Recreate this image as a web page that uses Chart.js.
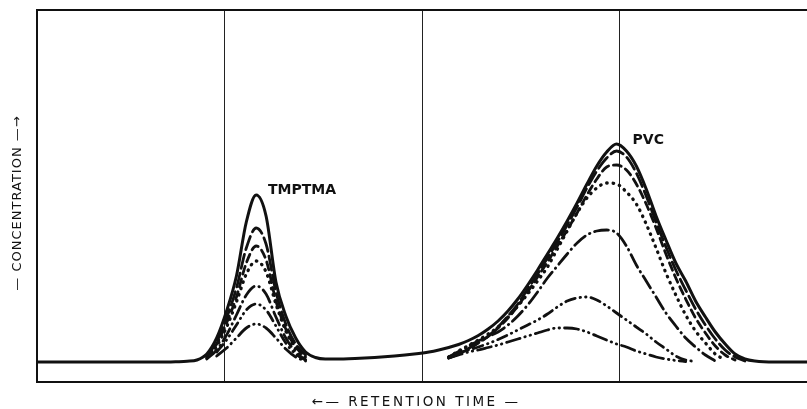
<!DOCTYPE html>
<html>
<head>
<meta charset="utf-8">
<script src="https://cdn.jsdelivr.net/npm/chart.js@4/dist/chart.umd.min.js"></script>
<style>
  html, body { margin: 0; padding: 0; background: #fff; overflow: hidden; width: 807px; height: 409px; }
  #wrap { position: absolute; left: 0; top: 0; width: 820px; height: 409px; }
</style>
</head>
<body>
<div id="wrap"><canvas id="chromatogram" width="820" height="409"></canvas></div>
<script>
// Retention axis (arbitrary units, reference lines at 10, 20, 30)
const retention = [
  0.5, 4, 7.1, 7.6,
  8.1, 8.6, 9.1, 9.6, 10.1, 10.6, 11.1, 11.6, 12.1, 12.6, 13.1, 13.6, 14.1, 14.6, 15.1, 15.6,
  16.6, 17.6, 18.6, 19.6,
  20.35, 20.85, 21.35, 21.85, 22.35, 22.85, 23.35, 23.85, 24.35, 24.85, 25.35, 25.85, 26.35,
  26.85, 27.35, 27.85, 28.35, 28.85, 29.35, 29.85, 30.35, 30.85, 31.35, 31.85, 32.35, 32.85,
  33.35, 33.85, 34.35, 34.85, 35.35, 35.85, 36.35,
  36.85, 37.85, 40
];
const gridPositions = [10, 20, 30];

// Detector response for each run (null = not recorded)
const run1 = [
  0, 0, 0, 0.3,
  0.8, 2, 8, 24, 51, 86, 140, 167, 146, 80, 46, 24, 10, 4.5, 3, 3,
  3.5, 4.5, 6, 8,
  10, 12, 14.5, 17.5, 21.5, 26.5, 33, 41, 51, 63, 77, 92, 108, 124, 141, 159, 178, 196, 210, 218,
  211, 196, 173, 146, 122, 99, 81, 61, 45, 30, 18, 8, 3,
  1, 0, 0
];
const run2 = [
  null, null, null, null,
  null, null, 6, 20, 44, 74, 114, 134, 118, 70, 38, 18, 7, null, null, null,
  null, null, null, null,
  null, null, 4, 8, 13.5, 19.5, 26, 35, 46, 58, 73, 88, 104, 120, 137, 155, 174, 191, 204, 211,
  205, 189, 166, 140, 115, 92, 72, 53, 37, 23, 12, 5, 1,
  null, null, null
];
const run3 = [
  null, null, null, null,
  null, null, 5, 18, 39, 65, 99, 116, 102, 61, 33, 15, 5, null, null, null,
  null, null, null, null,
  null, null, 4, 8, 13, 19, 25.5, 34, 44, 56, 70, 85, 100, 116, 132, 149, 167, 183, 195, 197,
  192, 178, 158, 134, 108, 84, 63, 44, 29, 16, 7, 2, null,
  null, null, null
];
const run4 = [
  null, null, null, null,
  null, null, 4, 16, 35, 60, 88, 101, 90, 58, 31, 13, 3, null, null, null,
  null, null, null, null,
  null, null, 5, 11, 16.5, 22, 28, 35, 45, 56, 68, 81, 95, 113, 131, 149, 164, 174, 179, 178,
  170, 158, 138, 114, 89, 67, 47, 31, 19, 8, 2, null, null,
  null, null, null
];
const run5 = [
  null, null, null, null,
  null, null, 3, 12, 27, 47, 67, 76, 68, 45, 24, 10, 2, null, null, null,
  null, null, null, null,
  null, null, 5, 10.5, 16, 21, 25.5, 30, 37, 46, 57, 70, 84, 96, 108, 119, 127, 131, 132, 129,
  116, 97, 81, 65, 49, 36, 24, 15, 7, 1, null, null, null,
  null, null, null
];
const run6 = [
  null, null, null, null,
  null, null, null, 10, 22, 37, 52, 58, 52, 36, 19, 8, 2, null, null, null,
  null, null, null, null,
  null, null, 5, 9, 12, 15, 18.5, 22.5, 27, 32, 37, 42, 48, 55, 61, 64, 65, 62, 56, 49,
  42, 35, 28, 20, 13, 6, 2, 0.5, null, null, null, null, null,
  null, null, null
];
const run7 = [
  null, null, null, null,
  null, null, null, 6, 14, 24, 34, 38, 34, 24, 13, 5, 1, null, null, null,
  null, null, null, null,
  null, null, 4, 7, 10, 12, 14.5, 17, 20, 23, 26, 29, 32, 34, 34, 33, 30, 26, 22, 18,
  15, 11, 8, 5, 3, 1.5, 0.5, null, null, null, null, null, null,
  null, null, null
];
const runs = [run1, run2, run3, run4, run5, run6, run7];

// Peak names and where they sit (retention, response)
const peakNames = ['TMPTMA', 'PVC'];
const peakLabelX = [12.2, 30.66];
const peakLabelY = [172, 222];

const xTitle = '\u2190\u2014 RETENTION TIME \u2014';
const yTitle = '\u2014 CONCENTRATION \u2014\u2192';

// Line style for each run
const lineStyles = [
  { dash: [], width: 3 },
  { dash: [14, 5], width: 2.8 },
  { dash: [8, 5], width: 2.8 },
  { dash: [0.5, 6], width: 3.3 },
  { dash: [14, 5, 0.5, 5], width: 2.8 },
  { dash: [10, 5, 0.5, 5, 0.5, 5], width: 2.8 },
  { dash: [14, 5, 0.5, 5, 0.5, 5], width: 2.8 }
];

const ink = '#111';

const framePlugin = {
  id: 'frame',
  beforeDatasetsDraw(chart) {
    const { ctx, chartArea: a } = chart;
    ctx.save();
    ctx.strokeStyle = ink;
    ctx.lineWidth = 2;
    ctx.strokeRect(a.left, a.top, a.right - a.left, a.bottom - a.top);
    ctx.restore();
  }
};

const labelPlugin = {
  id: 'labels',
  afterDraw(chart) {
    const { ctx } = chart;
    const xs = chart.scales.x, ys = chart.scales.y;
    ctx.save();
    ctx.fillStyle = ink;
    ctx.font = 'bold 14px "DejaVu Sans"';
    ctx.textAlign = 'left';
    ctx.textBaseline = 'middle';
    peakNames.forEach((name, i) => {
      ctx.fillText(name, xs.getPixelForValue(peakLabelX[i]), ys.getPixelForValue(peakLabelY[i]));
    });

    ctx.font = '13.5px "DejaVu Sans"';
    ctx.textAlign = 'center';
    ctx.letterSpacing = '2.5px';
    ctx.fillText(xTitle, 416, 402);

    ctx.font = '13px "DejaVu Sans"';
    ctx.letterSpacing = '1px';
    ctx.translate(18, 203);
    ctx.rotate(-Math.PI / 2);
    ctx.fillText(yTitle, 0, 0);
    ctx.restore();
  }
};

new Chart(document.getElementById('chromatogram'), {
  type: 'line',
  data: {
    datasets: runs.map((r, i) => ({
      label: 'run ' + (i + 1),
      data: retention.map((x, j) => ({ x: x, y: r[j] })),
      borderColor: ink,
      borderWidth: lineStyles[i].width,
      borderDash: lineStyles[i].dash,
      borderCapStyle: 'round',
      borderJoinStyle: 'round',
      pointRadius: 0,
      cubicInterpolationMode: 'monotone',
      spanGaps: false,
      fill: false
    }))
  },
  options: {
    responsive: false,
    devicePixelRatio: 1,
    animation: false,
    layout: { padding: { left: 37, top: 10, right: 3, bottom: 27 } },
    plugins: { legend: { display: false }, tooltip: { enabled: false } },
    scales: {
      x: {
        type: 'linear',
        min: 0.5,
        max: 40,
        border: { display: false },
        ticks: { display: false },
        grid: { color: '#222', lineWidth: 1, drawTicks: false },
        afterBuildTicks(scale) {
          scale.ticks = gridPositions.map(v => ({ value: v }));
        }
      },
      y: {
        type: 'linear',
        min: -20,
        max: 352,
        display: false
      }
    }
  },
  plugins: [framePlugin, labelPlugin]
});
</script>
</body>
</html>
